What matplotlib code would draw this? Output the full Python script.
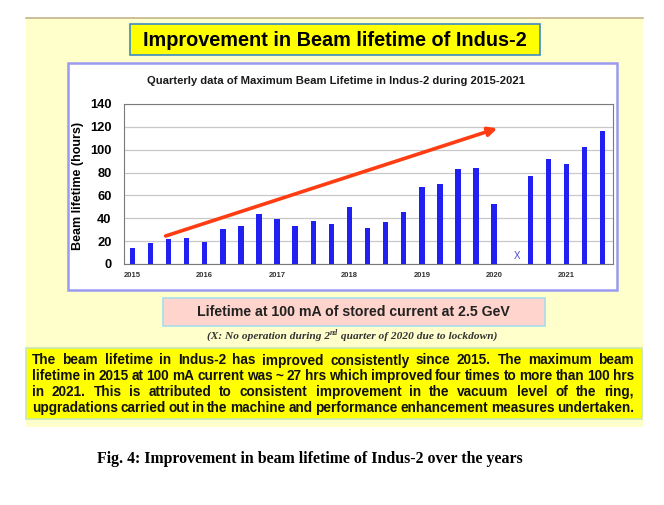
import matplotlib
matplotlib.use("Agg")
import matplotlib.pyplot as plt
from matplotlib.patches import Rectangle
from matplotlib.lines import Line2D

# quarterly maximum beam lifetime (hours), 2015 Q1 .. 2021 Q3
# None = no operation (2020 Q2, lockdown)
quarters = list(range(27))
lifetime = [14, 18.7, 21.6, 22.8, 19.3, 30.4, 33.6, 44.1,
            39.2, 33, 38, 34.8, 50, 31.5, 36.4, 45.2,
            67.6, 70.3, 82.8, 84, 52.5, None, 76.7, 92.1,
            87.2, 102.6, 116]
years = ['2015', '2016', '2017', '2018', '2019', '2020', '2021']
year_pos = [0, 4, 8, 12, 16, 20, 24]
no_op_quarter = 21
trend_start = (1.84, 24.5)
trend_end = (20.17, 118.7)

title = "Improvement in Beam lifetime of Indus-2"
chart_title = "Quarterly data of Maximum Beam Lifetime in Indus-2 during 2015-2021"
subtitle = "Lifetime at 100 mA of stored current at 2.5 GeV"
note = ["(X: No operation during 2", "nd", " quarter of 2020 due to lockdown)"]
body_lines = [
    "The beam lifetime in Indus-2 has improved consistently since 2015. The maximum beam",
    "lifetime in 2015 at 100 mA current was ~ 27 hrs which improved four times to more than 100  hrs",
    "in 2021.  This is attributed to consistent improvement in the vacuum level of the ring,",
    "upgradations carried out in the machine and performance enhancement measures undertaken.",
]
caption = "Fig. 4: Improvement in beam lifetime of Indus-2 over the years"

W, H = 664, 505
fig = plt.figure(figsize=(W / 100, H / 100), dpi=100)
renderer = fig.canvas.get_renderer()
sans = 'Liberation Sans'
serif = 'Liberation Serif'


def px(x, y):
    return x / W, 1 - y / H


def box(x0, y0, x1, y1, fc, ec, lw, z):
    fig.patches.append(Rectangle(px(x0, y1), (x1 - x0) / W, (y1 - y0) / H,
                                 transform=fig.transFigure, fc=fc, ec=ec, lw=lw, zorder=z))


def fit(t, width):
    # scale font so the text spans the width seen in the picture
    w = t.get_window_extent(renderer).width
    t.set_fontsize(t.get_fontsize() * width / w)


# background panels
box(26, 18, 643, 427, '#ffffcc', 'none', 0, -5)
fig.add_artist(Line2D([26 / W, 643 / W], [1 - 18 / H] * 2, color='#c4b48c', lw=1.2))
box(130, 24, 540, 55, '#ffff00', '#3c8cc0', 1.2, -4)
box(68, 63, 617, 290, 'white', '#9a9af0', 1.8, -4)
box(163, 298, 545, 326, '#ffd4cc', '#a8dcec', 1.2, -4)
box(26, 348, 642, 419, '#ffff00', '#c8e6b4', 1.2, -4)

t = fig.text(*px(335, 40), title, ha='center', va='center', family=sans,
             fontweight='bold', fontsize=12.5)
fit(t, 384)
t = fig.text(*px(336, 81), chart_title, ha='center', va='center', family=sans,
             fontweight='bold', fontsize=7, color='#1a1a1a')
fit(t, 380)

# bar chart
ax = fig.add_axes([124 / W, 1 - 264 / H, (612.7 - 124) / W, (264 - 104) / H])
xs = [q for q, v in zip(quarters, lifetime) if v is not None]
hs = [v for v in lifetime if v is not None]
ax.bar(xs, hs, width=0.3, color='#2020f0', zorder=3)
ax.text(no_op_quarter + 0.25, 2.5, 'X', color='#4646d8', fontsize=7,
        ha='center', va='bottom', family=sans, zorder=4)
ax.annotate('', xy=trend_end, xytext=trend_start,
            arrowprops=dict(arrowstyle='-|>', color='#ff3c12', lw=2.6,
                            mutation_scale=13, shrinkA=0, shrinkB=0), zorder=5)
ax.set_xlim(-0.46, 26.55)
ax.set_ylim(0, 140)
ax.set_yticks(range(0, 141, 20))
ax.set_xticks(year_pos)
ax.set_xticklabels(years)
ax.grid(axis='y', color='#c8c8c8', lw=0.9, zorder=0)
for s in ax.spines.values():
    s.set_color('#7a7a7a')
ax.tick_params(axis='y', length=0, pad=9, labelsize=9.3)
ax.tick_params(axis='x', length=0, pad=6, labelsize=5.5, labelcolor='#333333')
for lab in ax.get_yticklabels() + ax.get_xticklabels():
    lab.set_fontweight('bold')
    lab.set_family(sans)

t = fig.text(*px(78, 186), 'Beam lifetime (hours)', rotation=90, ha='center', va='center',
             family=sans, fontweight='bold', fontsize=9)

t = fig.text(*px(353, 312), subtitle, ha='center', va='center', family=sans,
             fontweight='bold', fontsize=9.5, color='#222222')
fit(t, 315)

# note line with superscript, centred
note_fs = [6.5, 4.4, 6.5]
parts = [fig.text(0, 0, s, family=serif, style='italic', fontweight='bold',
                  fontsize=fs, va='baseline', color='#333333') for s, fs in zip(note, note_fs)]
total = sum(p.get_window_extent(renderer).width for p in parts)
for p in parts:
    p.set_fontsize(p.get_fontsize() * 290 / total)
widths = [p.get_window_extent(renderer).width for p in parts]
x = 352 - sum(widths) / 2
for i, (p, w) in enumerate(zip(parts, widths)):
    p.set_position(px(x, 338.5 - (3.5 if i == 1 else 0)))
    x += w

# justified body text; size chosen so the last line is set tight
left, right = 31.7, 634
base = 9.0
last = body_lines[-1].split()
probe = [fig.text(0, 0, w, fontsize=base, fontweight='bold', family=sans) for w in last]
sw = sum(p.get_window_extent(renderer).width for p in probe)
for p in probe:
    p.remove()
body_fs = base * (right - left - 2.5 * (len(last) - 1)) / sw

for i, line in enumerate(body_lines):
    words = line.split()
    y = 364.5 + i * 15.7
    texts = [fig.text(0, 1 - y / H, w, fontsize=body_fs, fontweight='bold', family=sans,
                      va='baseline', color='#111111') for w in words]
    ws = [tt.get_window_extent(renderer).width for tt in texts]
    gap = (right - left - sum(ws)) / (len(words) - 1)
    x = left
    for tt, w in zip(texts, ws):
        tt.set_x(x / W)
        x += w + gap

t = fig.text(96.7 / W, 1 - 459 / H, caption, ha='left', va='center', family=serif,
             fontweight='bold', fontsize=10.5)
fit(t, 428)

fig.savefig('out.png', dpi=100)
